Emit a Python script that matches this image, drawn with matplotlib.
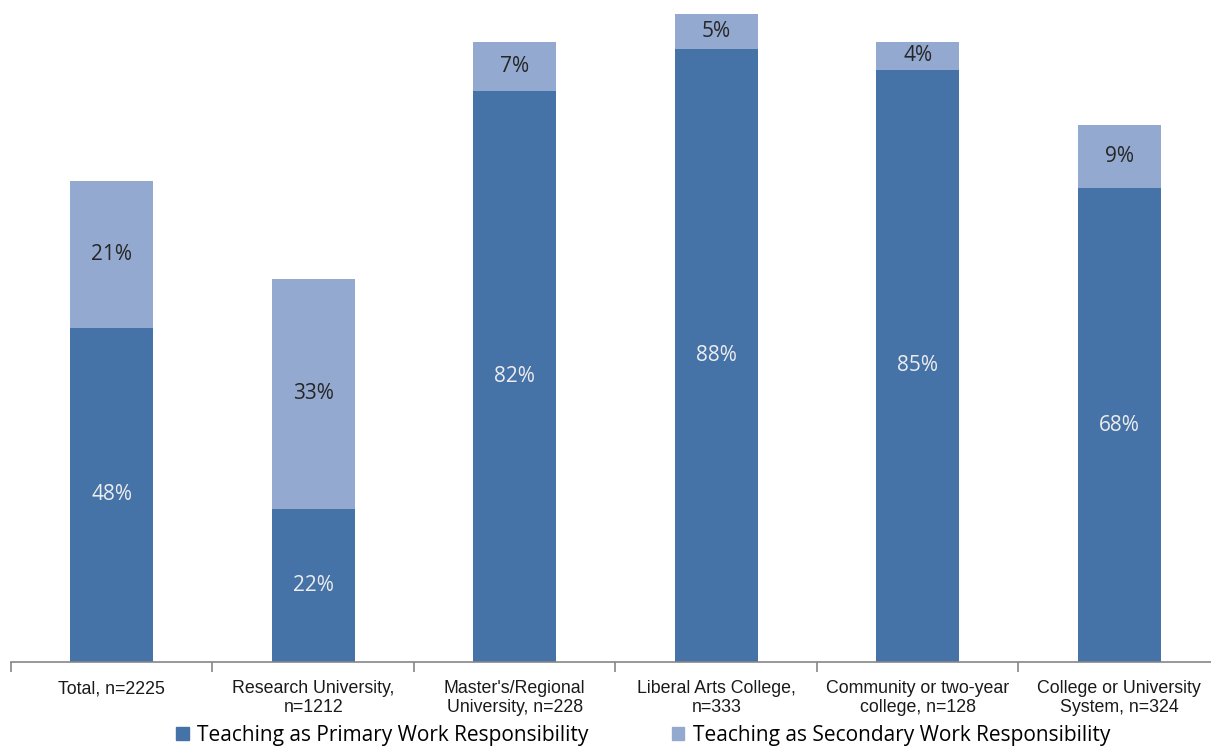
import matplotlib
matplotlib.use("Agg")
import matplotlib.pyplot as plt
import numpy as np
from matplotlib.patches import Patch

categories = ["Total, n=2225", "Research University,\nn=1212", "Master's/Regional\nUniversity, n=228",
              "Liberal Arts College,\nn=333", "Community or two-year\ncollege, n=128", "College or University\nSystem, n=324"]
primary = [48, 22, 82, 88, 85, 68]
secondary = [21, 33, 7, 5, 4, 9]
series_names = ["Teaching as Primary Work Responsibility", "Teaching as Secondary Work Responsibility"]

c_dark = "#4572A7"
c_light = "#94A9CF"

fig = plt.figure(figsize=(12.11, 7.47), dpi=100)
ax = fig.add_axes([11/1211, 85/747, 1209/1211, 662/747])

x = np.arange(len(categories))
w = 0.41
ax.bar(x, primary, width=w, color=c_dark, zorder=2)
ax.bar(x, secondary, width=w, bottom=primary, color=c_light, zorder=2)

for xi, p, s in zip(x, primary, secondary):
    ax.text(xi, p/2, f"{p}%", ha="center", va="center", color="#EDEDED", fontsize=15, family="Open Sans")
    ax.text(xi, p + s/2, f"{s}%", ha="center", va="center", color="#262626", fontsize=15, family="Open Sans")

ax.set_xlim(-0.5, len(categories) - 0.5)
ax.set_ylim(0, 95)
ax.set_yticks([])
for sp in ["top", "right", "left"]:
    ax.spines[sp].set_visible(False)
ax.spines["bottom"].set_color("#868686")
ax.spines["bottom"].set_linewidth(1.2)

ax.set_xticks(x)
ax.set_xticklabels(categories, family="Liberation Sans", fontsize=12.8, color="#1a1a1a", linespacing=1.12)
ax.tick_params(axis="x", which="major", length=0, pad=13)
ax.set_xticks(np.arange(len(categories) + 1) - 0.5, minor=True)
ax.tick_params(axis="x", which="minor", length=7, width=1.2, color="#868686")

handles = [Patch(color=c_dark), Patch(color=c_light)]
fig.legend(handles, series_names, loc="center", bbox_to_anchor=(0.531, 12/747), ncol=2,
           frameon=False, prop={"family": "Open Sans", "size": 15}, handlelength=0.6, handleheight=0.6,
           columnspacing=4.0, handletextpad=0.4, borderpad=0, borderaxespad=0)

fig.savefig("out.png", dpi=100)
